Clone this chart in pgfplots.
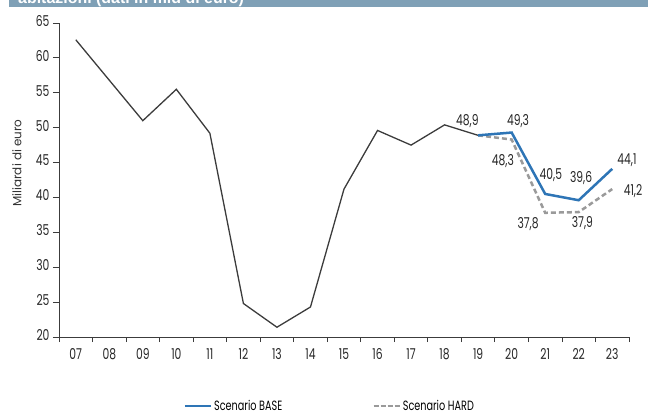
\documentclass[border=0pt]{standalone}
\usepackage{pgfplots}
\pgfplotsset{compat=1.18}
\usepackage{fontspec}
\setmainfont{Poppins}
\newfontfamily\condfont[FakeStretch=0.72]{Poppins}
\newfontfamily\bannerfont{Liberation Sans}
\definecolor{baseblue}{HTML}{2E75B6}
\definecolor{hardgray}{HTML}{9A9A9A}
\definecolor{linegray}{HTML}{3C3C3C}
\definecolor{bannerc}{HTML}{7FA0B6}
\begin{document}
\begin{tikzpicture}
\path[use as bounding box] (-59bp,-77bp) rectangle (589bp,337bp);
\fill[bannerc] (-49.5bp,330bp) rectangle (589bp,337bp);
\begin{scope}
\clip (-49.5bp,330bp) rectangle (589bp,337bp);
\node[anchor=base west, inner sep=0pt, text=white, font=\bannerfont\bfseries\fontsize{16}{16}\selectfont] at (-41bp,333bp) {abitazioni (dati in mld di euro)};
\end{scope}
\begin{axis}[
  at={(0bp,0bp)}, anchor=south west,
  scale only axis, width=570bp, height=314bp,
  xmin=-0.5, xmax=16.5, ymin=20, ymax=65,
  axis lines*=left,
  axis line style={linegray, line width=0.8bp},
  xtick={0,...,16},
  xticklabels={07,08,09,10,11,12,13,14,15,16,17,18,19,20,21,22,23},
  minor xtick={-0.5,0.5,...,16.5},
  major x tick style={draw=none},
  ytick={20,25,...,65},
  tick align=outside,
  major tick length=6bp, minor tick length=5bp,
  tick style={linegray, line width=0.8bp},
  /pgf/number format/assume math mode=true,
  ticklabel style={font=\condfont\fontsize{15}{15}\selectfont, text=black!85},
  xticklabel style={yshift=-2bp},
  yticklabel style={yshift=2bp},
  legend style={draw=none, at={(axis description cs:0.475,-0.22)}, anchor=center,
    legend columns=2, font=\condfont\fontsize{13.5}{13.5}\selectfont,
    /tikz/every even column/.append style={column sep=88bp}},
  legend image code/.code={\draw[#1] (0bp,0bp) -- (26bp,0bp);},
  clip=false,
]
\addplot[linegray, line width=1.3bp, forget plot] coordinates {
  (0,62.6)(1,56.8)(2,51.0)(3,55.5)(4,49.2)(5,24.8)(6,21.4)(7,24.3)
  (8,41.2)(9,49.6)(10,47.5)(11,50.4)(12,48.9)};
\addplot[hardgray, line width=2.5bp, dash pattern=on 5bp off 3bp, forget plot] coordinates {
  (12,48.9)(13,48.3)(14,37.8)(15,37.9)(16,41.2)};
\addplot[baseblue, line width=2.5bp, forget plot] coordinates {
  (12,48.9)(13,49.3)(14,40.5)(15,39.6)(16,44.1)};
\addlegendimage{baseblue, line width=2.5bp}
\addlegendentry{Scenario BASE}
\addlegendimage{hardgray, line width=2.5bp, dash pattern=on 5bp off 2bp}
\addlegendentry{Scenario HARD}
\begin{scope}[every node/.style={font=\condfont\fontsize{15}{15}\selectfont, text=black!85, inner sep=0pt}]
\node at (axis cs:11.68,50.95) {48,9};
\node at (axis cs:13.19,50.95) {49,3};
\node at (axis cs:12.74,45.2) {48,3};
\node at (axis cs:14.17,43.2) {40,5};
\node at (axis cs:15.07,42.8) {39,6};
\node at (axis cs:13.49,36.2) {37,8};
\node at (axis cs:15.11,36.4) {37,9};
\node at (axis cs:16.44,45.4) {44,1};
\node at (axis cs:16.62,40.9) {41,2};
\end{scope}
\node[rotate=90, font=\fontsize{12}{12}\selectfont, text=black!80] at (axis description cs:-0.0737,0.554) {Miliardi di euro};
\end{axis}
\end{tikzpicture}
\end{document}
